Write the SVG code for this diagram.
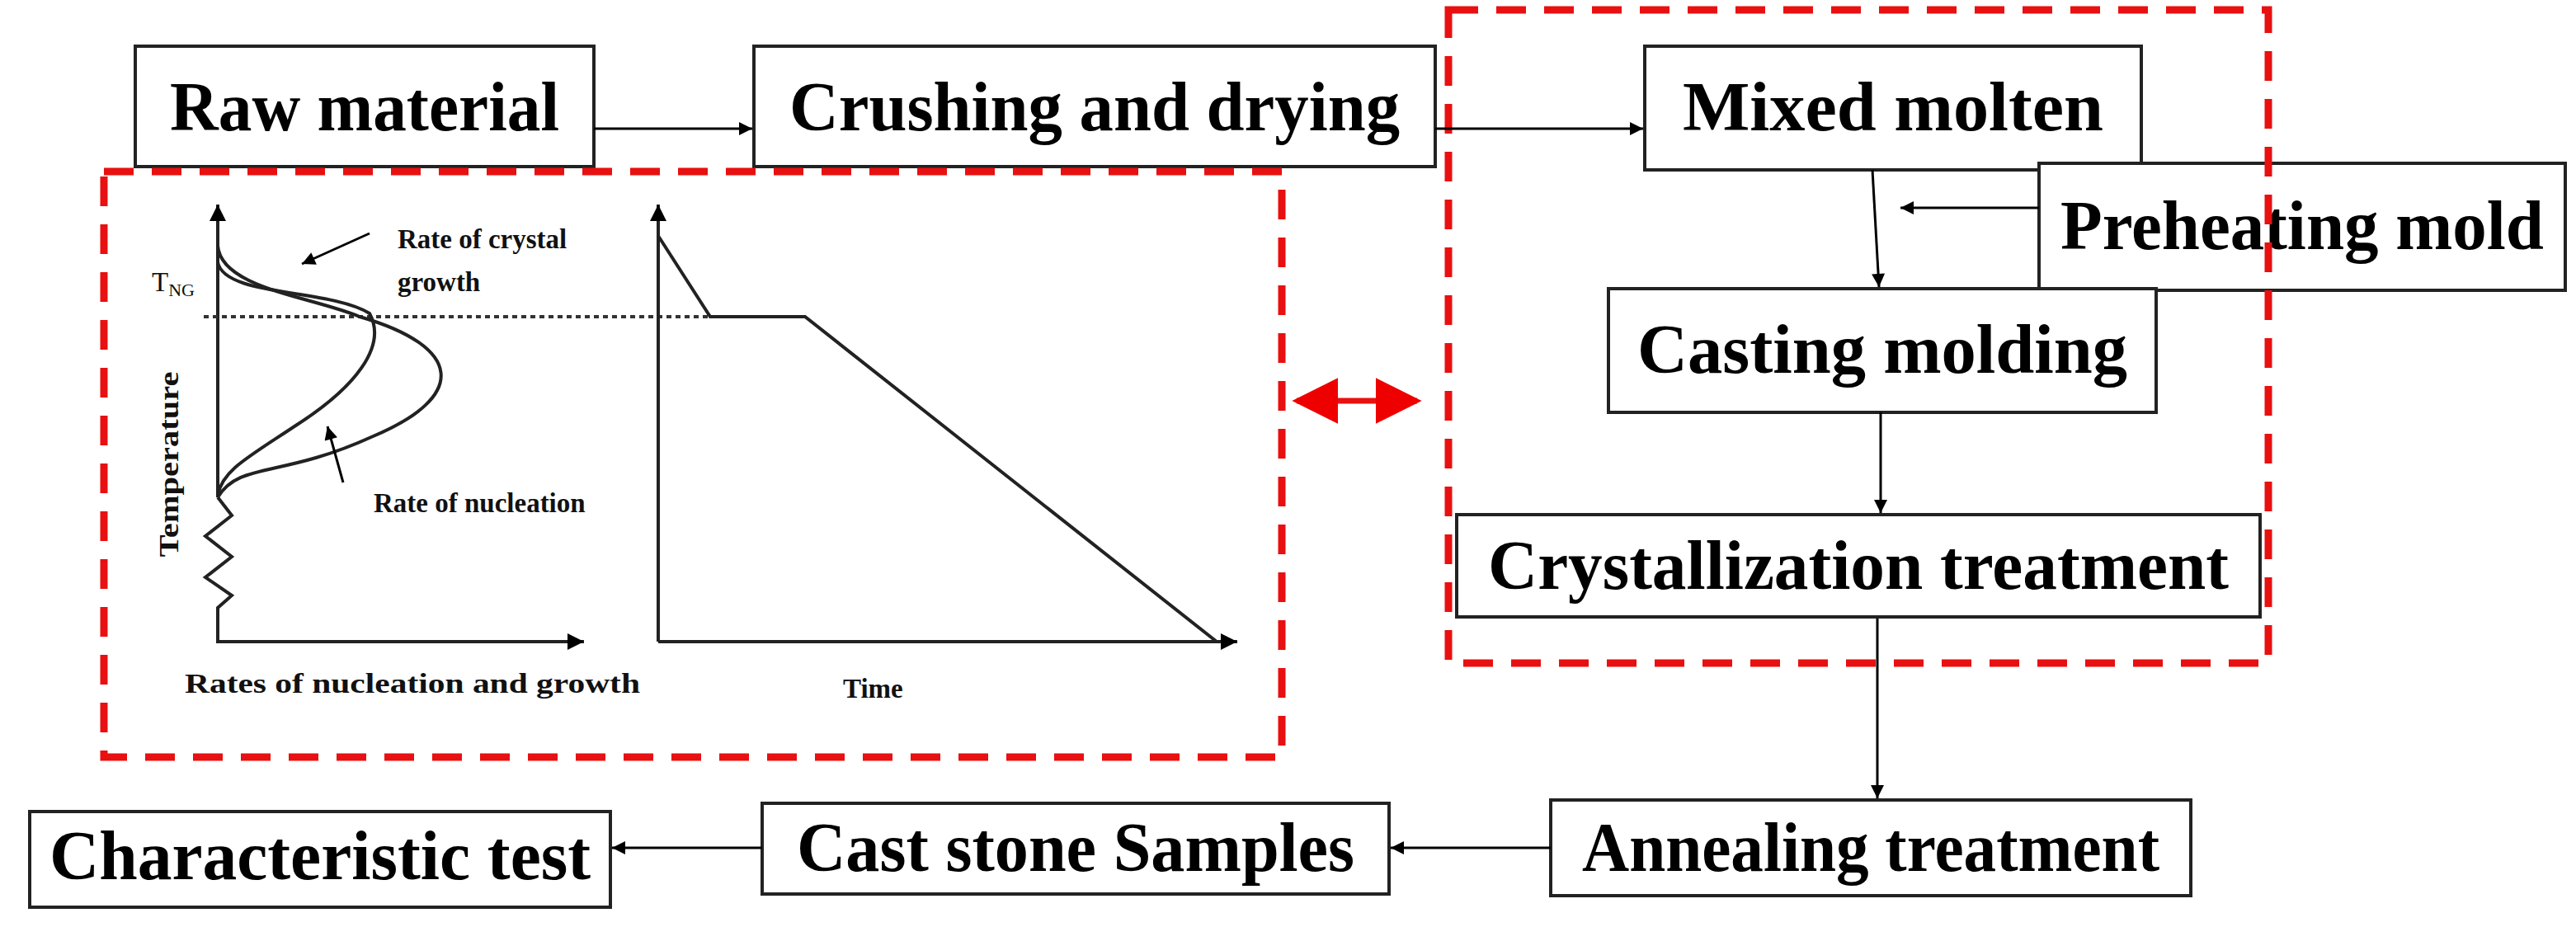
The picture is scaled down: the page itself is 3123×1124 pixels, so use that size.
<svg xmlns="http://www.w3.org/2000/svg" width="3123" height="1124" viewBox="0 0 3123 1124">
<defs>
<marker id="ah" viewBox="0 0 10 10" refX="10" refY="5" markerWidth="18" markerHeight="16" markerUnits="userSpaceOnUse" orient="auto"><path d="M0,0 L10,5 L0,10 z" fill="#000"/></marker>
<marker id="ah2" viewBox="0 0 10 10" refX="10" refY="5" markerWidth="24" markerHeight="20" markerUnits="userSpaceOnUse" orient="auto"><path d="M0,0 L10,5 L0,10 z" fill="#000"/></marker>
<marker id="ra" viewBox="0 0 10 10" refX="9" refY="5" markerWidth="8" markerHeight="8" orient="auto-start-reverse"><path d="M0,0 L10,5 L0,10 z" fill="#e00"/></marker>
</defs>
<style>
.box{fill:#fff;stroke:#222;stroke-width:4}
.t{font-family:"Liberation Serif",serif;font-weight:bold;font-size:84px;fill:#000;text-anchor:middle}
.s{font-family:"Liberation Serif",serif;font-weight:bold;font-size:33px;fill:#111}
.c{stroke:#000;stroke-width:3;fill:none}
.red{fill:none;stroke:#e81010;stroke-width:9;stroke-dasharray:36 22}
.ax{stroke:#222;stroke-width:4;fill:none}
</style>
<rect width="3123" height="1124" fill="#fff"/>
<g id="n1"><rect class="box" x="164" y="56" width="556" height="146"/><text class="t" x="442" y="158" textLength="472" lengthAdjust="spacingAndGlyphs">Raw material</text></g>
<g id="n2"><rect class="box" x="914" y="56" width="826" height="146"/><text class="t" x="1327" y="158" textLength="740" lengthAdjust="spacingAndGlyphs">Crushing and drying</text></g>
<g id="n3"><rect class="box" x="1994" y="56" width="602" height="150"/><text class="t" x="2295" y="158" textLength="510" lengthAdjust="spacingAndGlyphs">Mixed molten</text></g>
<g id="n4"><rect class="box" x="2472" y="198" width="638" height="154"/><text class="t" x="2791" y="302" textLength="586" lengthAdjust="spacingAndGlyphs">Preheating mold</text></g>
<g id="n5"><rect class="box" x="1950" y="350" width="664" height="150"/><text class="t" x="2282" y="452" textLength="594" lengthAdjust="spacingAndGlyphs">Casting molding</text></g>
<g id="n6"><rect class="box" x="1766" y="624" width="974" height="124"/><text class="t" x="2253" y="714" textLength="898" lengthAdjust="spacingAndGlyphs">Crystallization treatment</text></g>
<g id="n7"><rect class="box" x="1880" y="970" width="776" height="116"/><text class="t" x="2268" y="1056" textLength="700" lengthAdjust="spacingAndGlyphs">Annealing treatment</text></g>
<g id="n8"><rect class="box" x="924" y="974" width="760" height="110"/><text class="t" x="1304" y="1056" textLength="676" lengthAdjust="spacingAndGlyphs">Cast stone Samples</text></g>
<g id="n9"><rect class="box" x="36" y="984" width="704" height="116"/><text class="t" x="388" y="1066" textLength="656" lengthAdjust="spacingAndGlyphs">Characteristic test</text></g>
<g id="frames">
<rect class="red" x="1756" y="12" width="994" height="792"/>
<rect class="red" x="126" y="208" width="1428" height="710"/>
</g>
<g id="connectors">
<line class="c" x1="720" y1="156" x2="912" y2="156" marker-end="url(#ah)"/>
<line class="c" x1="1740" y1="156" x2="1992" y2="156" marker-end="url(#ah)"/>
<line class="c" x1="2270" y1="206" x2="2278" y2="348" marker-end="url(#ah)"/>
<line class="c" x1="2472" y1="252" x2="2304" y2="252" marker-end="url(#ah)"/>
<line class="c" x1="2280" y1="500" x2="2280" y2="622" marker-end="url(#ah)"/>
<line class="c" x1="2276" y1="750" x2="2276" y2="968" marker-end="url(#ah)"/>
<line class="c" x1="1880" y1="1028" x2="1686" y2="1028" marker-end="url(#ah)"/>
<line class="c" x1="924" y1="1028" x2="742" y2="1028" marker-end="url(#ah)"/>
<line x1="1572" y1="486" x2="1718" y2="486" stroke="#e81010" stroke-width="7" marker-start="url(#ra)" marker-end="url(#ra)"/>
</g>
<g id="chart">
<line class="ax" x1="264" y1="603" x2="264" y2="248" marker-end="url(#ah2)"/>
<polyline class="ax" points="264,603 281,625 249,650 281,675 249,700 281,722 264,737 264,778 708,778" marker-end="url(#ah2)"/>
<line x1="247" y1="384" x2="861" y2="384" stroke="#333" stroke-width="4" stroke-dasharray="6 5"/>
<path class="ax" d="M264,298 C268,350 380,360 436,384 C560,420 570,480 450,530 C340,580 290,560 264,603"/>
<path class="ax" d="M264,318 C272,360 400,350 448,380 C470,420 430,470 360,515 C300,555 270,570 264,600"/>
<line class="c" x1="448" y1="283" x2="366" y2="320" marker-end="url(#ah)"/>
<line class="c" x1="416" y1="585" x2="397" y2="517" marker-end="url(#ah)"/>
<line class="ax" x1="798" y1="778" x2="798" y2="248" marker-end="url(#ah2)"/>
<line class="ax" x1="798" y1="778" x2="1500" y2="778" marker-end="url(#ah2)"/>
<polyline class="ax" points="798,286 861,384 976,384 1475,778"/>
<text class="s" x="482" y="301">Rate of crystal</text>
<text class="s" x="482" y="353">growth</text>
<text class="s" x="453" y="621">Rate of nucleation</text>
<text class="s" x="224" y="840" textLength="552" lengthAdjust="spacingAndGlyphs">Rates of nucleation and growth</text>
<text class="s" x="1022" y="846">Time</text>
<text class="s" x="184" y="353" style="font-weight:normal">T<tspan font-size="22" dy="6">NG</tspan></text>
<text class="s" transform="translate(216,563) rotate(-90)" text-anchor="middle" textLength="225" lengthAdjust="spacingAndGlyphs">Temperature</text>
</g>
</svg>
